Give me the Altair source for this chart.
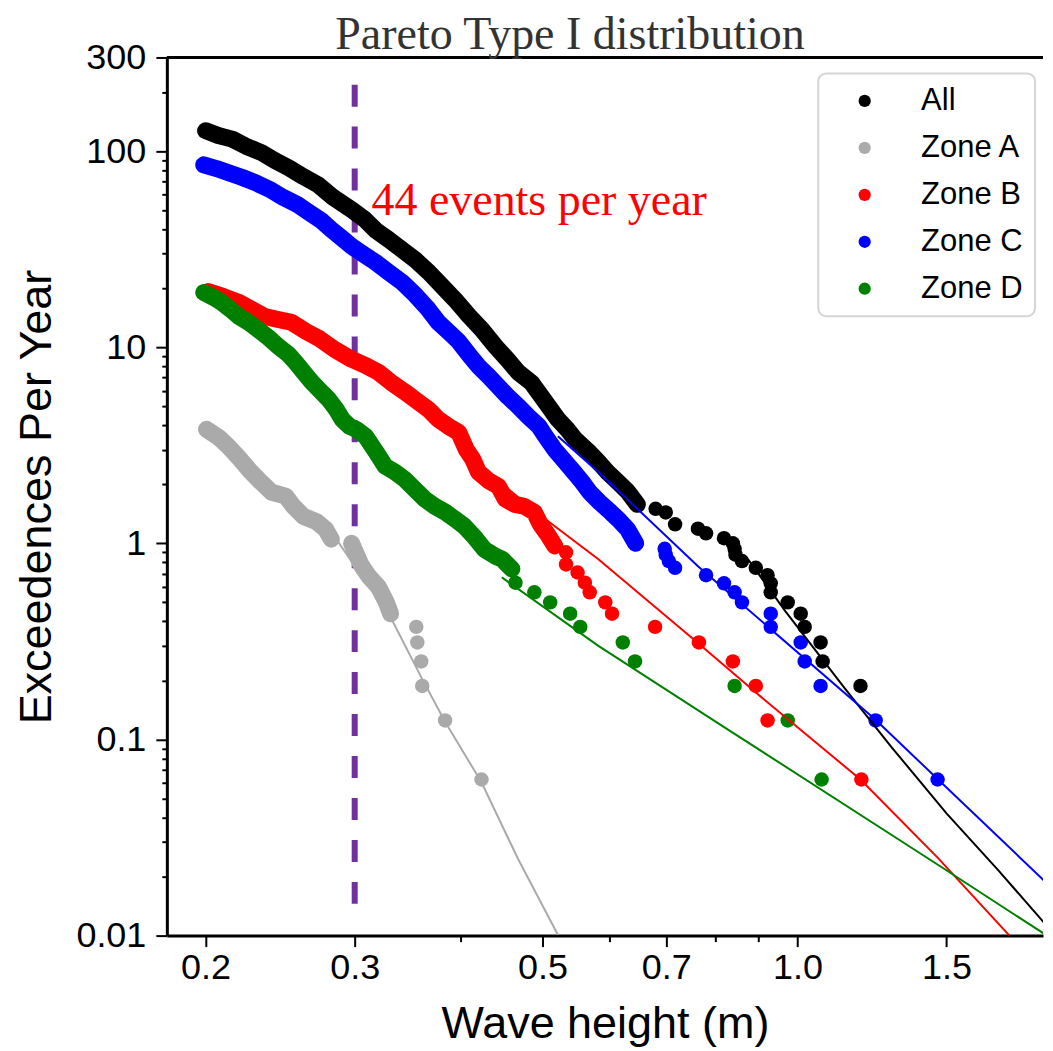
import altair as alt
import pandas as pd

SERIES = ["All", "Zone A", "Zone B", "Zone C", "Zone D"]
COLORS = ["#000000", "#aaaaaa", "#ff0000", "#0000ff", "#008000"]

# ---- All ----
all_band_x = [0.200, 0.207, 0.215, 0.223, 0.233, 0.242, 0.251, 0.261, 0.272, 0.283, 0.298, 0.308,
              0.318, 0.329, 0.341, 0.354, 0.367, 0.380, 0.394, 0.409, 0.424, 0.440, 0.455, 0.468,
              0.485, 0.504, 0.521, 0.535, 0.546, 0.566, 0.582, 0.597, 0.614, 0.630, 0.647]
all_band_y = [127, 120, 115, 106, 98, 89, 82, 74, 67, 58, 50, 45,
              39.3, 35.4, 31.5, 27.8, 24.1, 20.6, 17.5, 14.5, 12.3, 10.1, 8.6, 7.45,
              6.6, 5.25, 4.3, 3.8, 3.4, 2.95, 2.6, 2.3, 2.05, 1.84, 1.58]
all_tail_x = [0.680, 0.699, 0.717, 0.763, 0.780, 0.819, 0.839, 0.843, 0.845, 0.860, 0.893,
              0.922, 0.930, 0.930, 0.974, 1.009, 1.020, 1.065, 1.071, 1.187]
all_tail_y = [1.5, 1.4375, 1.25, 1.1875, 1.125, 1.0625, 1.0, 0.9375, 0.875, 0.8125, 0.75,
              0.6875, 0.625, 0.5625, 0.5, 0.4375, 0.375, 0.3125, 0.25, 0.1875]

# ---- Zone A ----
a_band_x = [0.2005, 0.2072, 0.2128, 0.2188, 0.2259, 0.2326, 0.2394, 0.2487, 0.2541, 0.2611,
            0.2704, 0.2772, 0.2815]
a_band_y = [3.81, 3.47, 3.12, 2.74, 2.33, 2.05, 1.82, 1.74, 1.54, 1.37, 1.29, 1.18, 1.05]
a_band2_x = [0.2975, 0.305, 0.3117, 0.320, 0.327, 0.3308]
a_band2_y = [1.0, 0.78, 0.68, 0.60, 0.50, 0.4375]
a_tail_x = [0.3547, 0.3557, 0.3595, 0.3605, 0.3836, 0.4235]
a_tail_y = [0.375, 0.3125, 0.25, 0.1875, 0.125, 0.0625]

# ---- Zone B ----
b_band_x = [0.2015, 0.210, 0.219, 0.2265, 0.235, 0.2435, 0.2525, 0.263, 0.273, 0.284, 0.2975,
            0.309, 0.320, 0.331, 0.3445, 0.357, 0.3665, 0.3765, 0.387, 0.398, 0.4065, 0.4135,
            0.420, 0.432, 0.4435, 0.452, 0.4635, 0.4755, 0.489, 0.497, 0.507, 0.517]
b_band_y = [19.2, 18.1, 16.9, 15.6, 14.35, 13.85, 13.4, 12.0, 11.0, 9.75, 8.67,
            8.07, 7.45, 6.63, 5.88, 5.24, 4.82, 4.29, 3.95, 3.68, 3.0, 2.69,
            2.31, 2.08, 1.95, 1.68, 1.58, 1.545, 1.44, 1.25, 1.11, 0.97]
b_tail_x = [0.533, 0.533, 0.550, 0.561, 0.5685, 0.593, 0.604, 0.679, 0.765, 0.839, 0.893,
            0.922, 1.19]
b_tail_y = [0.9, 0.78, 0.71, 0.63, 0.5625, 0.5, 0.4375, 0.375, 0.3125, 0.25, 0.1875,
            0.125, 0.0625]

# ---- Zone C ----
c_band_x = [0.199, 0.206, 0.2125, 0.221, 0.229, 0.238, 0.247, 0.2565, 0.265, 0.274, 0.2815,
            0.289, 0.2975, 0.3075, 0.3175, 0.329, 0.341, 0.354, 0.3665, 0.3765, 0.387, 0.398,
            0.409, 0.420, 0.432, 0.4435, 0.455, 0.468, 0.481, 0.495, 0.505, 0.517, 0.528,
            0.545, 0.557, 0.5685, 0.584, 0.602, 0.617, 0.630, 0.644]
c_band_y = [85, 81.4, 77.7, 73.3, 69, 63.8, 58, 53.5, 48.6, 44.2, 39.8,
            36.3, 32.7, 29.7, 27.1, 24.1, 21.5, 18.4, 15.6, 13.4, 12.0, 10.7,
            9.2, 8.0, 7.1, 6.3, 5.6, 5.0, 4.43, 3.95, 3.47, 3.0, 2.7,
            2.3, 2.05, 1.82, 1.62, 1.44, 1.3, 1.18, 1.0]
c_tail_x = [0.697, 0.699, 0.705, 0.717, 0.780, 0.819, 0.843, 0.860, 0.930, 0.930, 1.009,
            1.020, 1.065, 1.237, 1.464]
c_tail_y = [0.9375, 0.875, 0.8125, 0.75, 0.6875, 0.625, 0.5625, 0.5, 0.4375, 0.375, 0.3125,
            0.25, 0.1875, 0.125, 0.0625]

# ---- Zone D ----
d_band_x = [0.199, 0.2045, 0.209, 0.214, 0.219, 0.2247, 0.2307, 0.237, 0.2436, 0.2505, 0.2555,
            0.2612, 0.267, 0.2736, 0.2796, 0.2853, 0.290, 0.2958, 0.301, 0.309, 0.3175, 0.326,
            0.3347, 0.3437, 0.353, 0.363, 0.373, 0.384, 0.394, 0.4045, 0.416, 0.427, 0.440,
            0.448, 0.460]
d_band_y = [19.0, 17.9, 16.9, 15.6, 14.35, 13.4, 12.3, 11.25, 10.1, 9.2, 8.37,
            7.45, 6.63, 5.95, 5.41, 4.82, 4.29, 3.95, 3.82, 3.51, 2.95, 2.47,
            2.31, 2.12, 1.89, 1.68, 1.545, 1.44, 1.33, 1.22, 1.07, 0.93, 0.86,
            0.83, 0.74]
d_tail_x = [0.4645, 0.489, 0.5105, 0.539, 0.554, 0.622, 0.643, 0.843, 0.974, 1.068]
d_tail_y = [0.63, 0.5625, 0.5, 0.4375, 0.375, 0.3125, 0.25, 0.1875, 0.125, 0.0625]

# ---- fitted Pareto curves ----
fit_all_x = [0.874, 0.968, 1.1375, 1.29, 1.5, 1.724, 1.989]
fit_all_y = [0.83, 0.45, 0.182, 0.092, 0.042, 0.0217, 0.0107]
fit_a_x = [0.2853, 0.3317, 0.3605, 0.3836, 0.4235, 0.468, 0.5213]
fit_a_y = [1.05, 0.41, 0.203, 0.123, 0.0605, 0.0245, 0.0101]
fit_b_x = [0.4065, 0.4947, 0.582, 0.763, 0.898, 1.187, 1.465, 1.78]
fit_b_y = [2.84, 1.41, 0.83, 0.31, 0.17, 0.0625, 0.0249, 0.01]
fit_c_x = [0.5213, 0.582, 0.763, 1.234, 1.989]
fit_c_y = [3.51, 2.31, 0.765, 0.127, 0.0178]
fit_d_x = [0.4477, 0.582, 0.821, 1.476, 1.957]
fit_d_y = [0.67, 0.30, 0.115, 0.0225, 0.0102]

threshold_x = [0.3]
threshold_top = [218]
threshold_bottom = [0.0125]
note_text = ["44 events per year"]
note_x = [0.314]
note_y = [47.4]

x_ticks = [0.2, 0.3, 0.4, 0.5, 0.6, 0.7, 0.8, 0.9, 1.0, 1.5]
x_major = [0.2, 0.3, 0.5, 0.7, 1.0, 1.5]
y_ticks = [0.01, 0.02, 0.03, 0.04, 0.05, 0.06, 0.07, 0.08, 0.09,
           0.1, 0.2, 0.3, 0.4, 0.5, 0.6, 0.7, 0.8, 0.9,
           1, 2, 3, 4, 5, 6, 7, 8, 9,
           10, 20, 30, 40, 50, 60, 70, 80, 90,
           100, 200, 300]
y_major = [0.01, 0.1, 1, 10, 100, 300]

W, H = 877, 879
SANS = "Liberation Sans"
SERIF = "Liberation Serif"


def major_test(vals):
    return "indexof([" + ",".join(str(v) for v in vals) + "], datum.value) >= 0"


X_AXIS = alt.Axis(
    values=x_ticks, format=".1f",
    labelExpr="(" + major_test(x_major) + ") ? datum.label : ''",
    tickSize={"condition": {"test": major_test(x_major), "value": 11}, "value": 6},
    tickWidth=2, tickColor="black", domainColor="black", domainWidth=3,
    labelFont=SANS, labelFontSize=36, labelColor="black", labelPadding=4,
    labelFlush=False, labelOverlap=False, grid=False,
    title="Wave height (m)", titleFont=SANS, titleFontSize=45,
    titleFontWeight="normal", titleColor="black", titlePadding=16,
)
Y_AXIS = alt.Axis(
    values=y_ticks, format="~g",
    labelExpr="(" + major_test(y_major) + ") ? datum.label : ''",
    tickSize={"condition": {"test": major_test(y_major), "value": 11}, "value": 5},
    tickWidth=2, tickColor="black", domainColor="black", domainWidth=3,
    labelFont=SANS, labelFontSize=36, labelColor="black", labelPadding=10,
    labelFlush=False, labelOverlap=False, grid=False,
    title="Exceedences Per Year", titleFont=SANS, titleFontSize=45,
    titleFontWeight="normal", titleColor="black", titlePadding=16,
)
X_SCALE = alt.Scale(type="log", domain=[0.18, 1.95], nice=False)
Y_SCALE = alt.Scale(type="log", domain=[0.01, 300], nice=False)


def X(field):
    return alt.X(field, type="quantitative", scale=X_SCALE, axis=X_AXIS)


def Y(field):
    return alt.Y(field, type="quantitative", scale=Y_SCALE, axis=Y_AXIS)


COLOR = alt.Color(
    "series:N",
    scale=alt.Scale(domain=SERIES, range=COLORS),
    legend=alt.Legend(
        title=None, orient="none", legendX=652, legendY=16, direction="vertical",
        symbolType="circle", symbolSize=150, symbolStrokeWidth=0, symbolOffset=19,
        labelOffset=41, labelFont=SANS, labelFontSize=31, labelColor="black",
        rowPadding=15, padding=12, strokeColor="#d5d5d5", fillColor="white",
        cornerRadius=8,
    ),
)

series_data = [
    ("All", [(all_band_x, all_band_y)], (all_tail_x, all_tail_y), (fit_all_x, fit_all_y)),
    ("Zone A", [(a_band_x, a_band_y), (a_band2_x, a_band2_y)], (a_tail_x, a_tail_y), (fit_a_x, fit_a_y)),
    ("Zone B", [(b_band_x, b_band_y)], (b_tail_x, b_tail_y), (fit_b_x, fit_b_y)),
    ("Zone C", [(c_band_x, c_band_y)], (c_tail_x, c_tail_y), (fit_c_x, fit_c_y)),
    ("Zone D", [(d_band_x, d_band_y)], (d_tail_x, d_tail_y), (fit_d_x, fit_d_y)),
]

layers = []
fit_layers = []
for (name, bands, tail, fit), color in zip(series_data, COLORS):
    band_rows = []
    pts_rows = []
    for seg, (bx, by) in enumerate(bands):
        for xv, yv in zip(bx, by):
            band_rows.append({"wave": xv, "rate": yv, "seg": seg, "series": name})
            pts_rows.append({"wave": xv, "rate": yv, "series": name})
    for xv, yv in zip(*tail):
        pts_rows.append({"wave": xv, "rate": yv, "series": name})
    band_df = pd.DataFrame(band_rows)
    pts_df = pd.DataFrame(pts_rows)
    layers.append(
        alt.Chart(band_df).mark_line(color=color, strokeWidth=17, strokeCap="round",
                                     strokeJoin="round", clip=True)
        .encode(x=X("wave"), y=Y("rate"), detail="seg:N")
    )
    layers.append(
        alt.Chart(pts_df).mark_circle(size=210, opacity=1, clip=True)
        .encode(x=X("wave"), y=Y("rate"), color=COLOR)
    )
    fit_df = pd.DataFrame({"wave": fit[0], "rate": fit[1]})
    fit_layers.append(
        alt.Chart(fit_df).mark_line(color=color, strokeWidth=2, clip=True)
        .encode(x=X("wave"), y=Y("rate"))
    )

rule_df = pd.DataFrame({"wave": threshold_x, "top": threshold_top, "bottom": threshold_bottom})
rule = alt.Chart(rule_df).mark_rule(color="#7030a0", strokeWidth=6, strokeDash=[22, 20]).encode(
    x=X("wave"), y=Y("top"), y2=alt.Y2("bottom")
)

note_df = pd.DataFrame({"wave": note_x, "rate": note_y, "label": note_text})
note = alt.Chart(note_df).mark_text(
    align="left", baseline="alphabetic", font=SERIF, fontSize=46, color="#ff0000"
).encode(x=X("wave"), y=Y("rate"), text="label:N")

frame_df = pd.DataFrame({"k": [0]})
top_frame = alt.Chart(frame_df).mark_rule(color="black", strokeWidth=3).encode(
    x=alt.value(0), x2=alt.value(W), y=alt.value(0)
)

chart = alt.layer(rule, *layers, *fit_layers, note, top_frame).properties(
    width=W, height=H,
    title=alt.TitleParams(
        "Pareto Type I distribution", font=SERIF, fontSize=46, fontWeight="normal",
        color="#333333", anchor="middle", dx=-35, offset=-20,
    ),
    padding={"left": 6, "top": 4, "right": 0, "bottom": 0},
).configure_view(stroke=None).configure_legend(strokeWidth=2)

chart.save("out.html", embed_options={"renderer": "svg", "actions": False})
